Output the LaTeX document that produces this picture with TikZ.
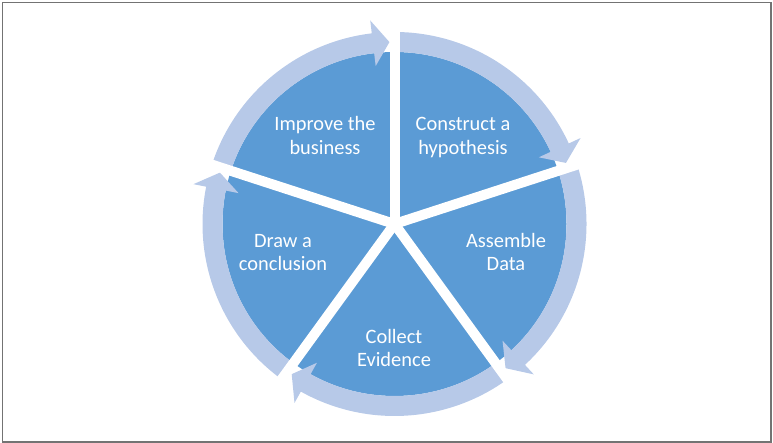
\documentclass[tikz,border=0pt]{standalone}
\usepackage{fontspec}
\setmainfont{Carlito}
\definecolor{piefill}{RGB}{91,155,213}
\definecolor{bandfill}{RGB}{183,201,232}
\definecolor{framegray}{RGB}{115,115,115}
\tikzset{
  pie/.style={fill=piefill},
  band/.style={fill=bandfill},
  sep/.style={draw=white, line width=10bp, line cap=round},
  lbl/.style={text=white, anchor=base, inner sep=0pt, font=\fontsize{20.5}{23}\selectfont},
}
\begin{document}
\begin{tikzpicture}[x=1bp,y=1bp]
\useasboundingbox (0,0) rectangle (773,443);
\draw[framegray, line width=1bp] (2.7,1.3) -- (2.7,440.3) -- (771.3,440.3);
\draw[framegray, line width=2bp] (2.2,1.3) -- (771.3,1.3) -- (771.3,440.8);
\coordinate (c) at (394.5,219);
\begin{scope}[shift={(c)}]
  \fill[pie] (0,0) circle[radius=172];
  \foreach \a in {162,90,18,-54,-126} {
    \pgfmathsetmacro\tp{\a-72+1.6}
    \pgfmathsetmacro\hb{\tp+5.2}
    \fill[band] (\a:192) arc[start angle=\a, end angle=\hb, radius=192]
      -- (\hb:205) -- (\tp:182) -- (\hb:159) -- (\hb:172)
      arc[start angle=\hb, end angle=\a, radius=172] -- cycle;
  }
  \foreach \a in {162,90,18,-54,-126} {
    \draw[sep] (0,0) -- (\a:212);
  }
\end{scope}
\node[lbl] (improveA) at (325,312) {Improve the};
\node[lbl] (improveB) at (325,288.7) {business};
\node[lbl] (constructA) at (463,312) {Construct a};
\node[lbl] (constructB) at (463,288.7) {hypothesis};
\node[lbl] (assembleA) at (506,195.3) {Assemble};
\node[lbl] (assembleB) at (506,172.3) {Data};
\node[lbl] (collectA) at (394,99) {Collect};
\node[lbl] (collectB) at (394,76) {Evidence};
\node[lbl] (drawA) at (283,195.3) {Draw a};
\node[lbl] (drawB) at (283,172.3) {conclusion};
\end{tikzpicture}
\end{document}
